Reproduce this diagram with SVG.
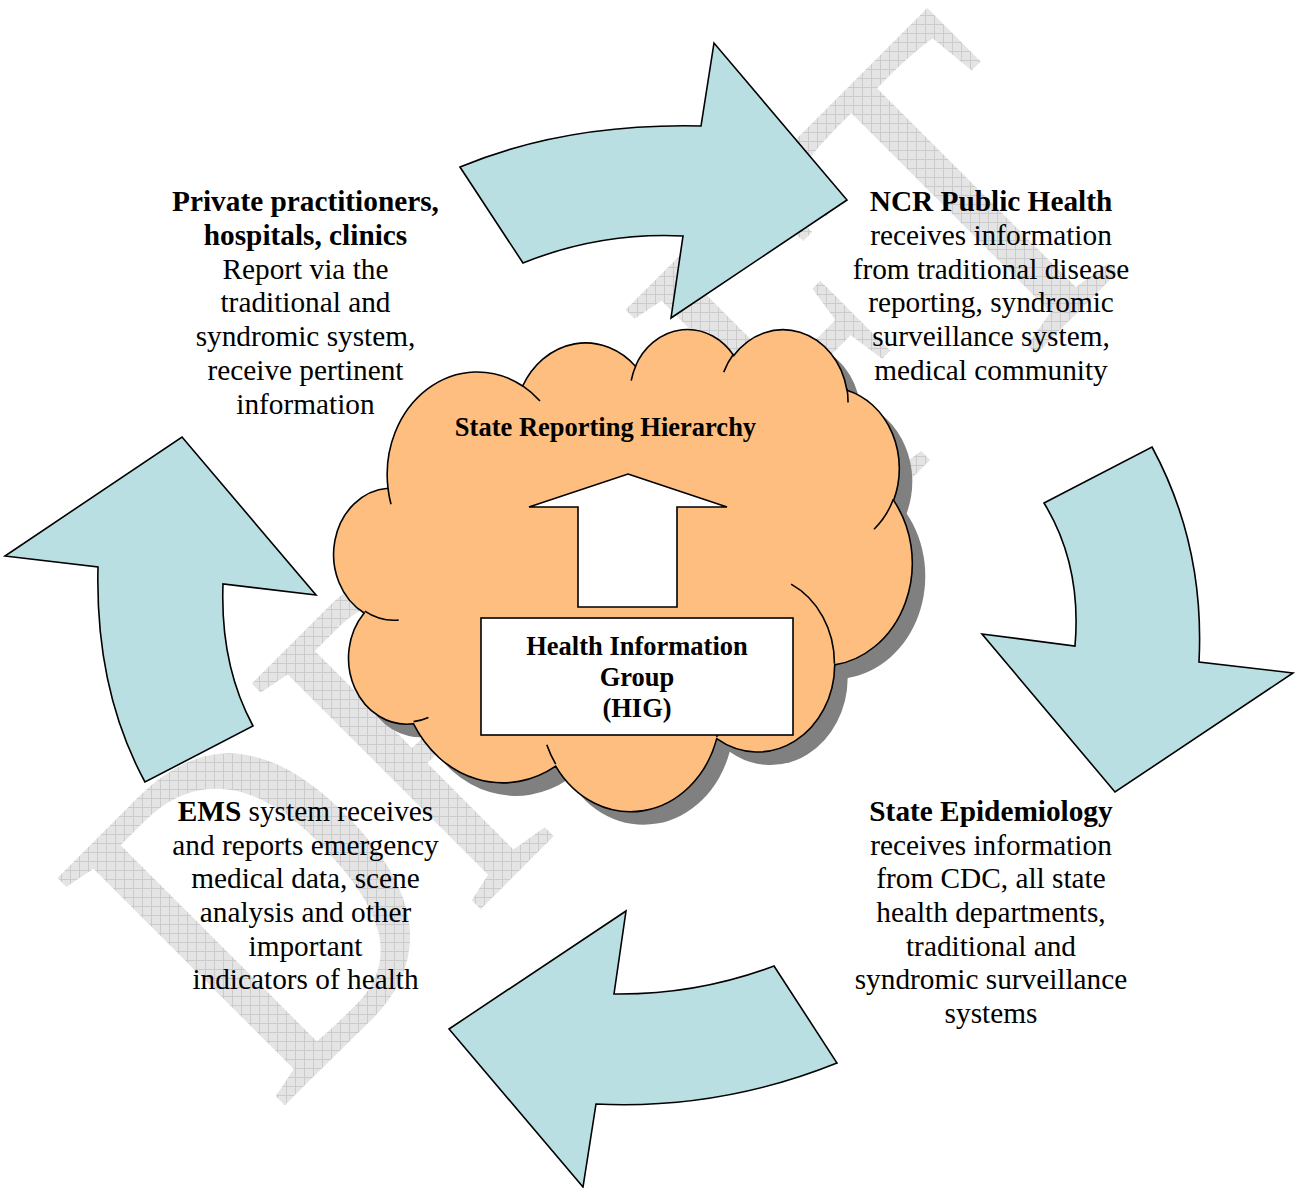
<svg xmlns="http://www.w3.org/2000/svg" width="1296" height="1188" viewBox="0 0 1296 1188">
  <defs>
    <!-- light grid fill used for the DRAFT watermark; patternTransform undoes the text transform so the grid stays axis-aligned -->
    <pattern id="grid" width="9" height="9" patternUnits="userSpaceOnUse" patternTransform="scale(1.2903,1) rotate(45)">
      <rect width="9" height="9" fill="#e4e4e4"/>
      <path d="M0 0.5H9M0.5 0V9" stroke="#cbcbcb" stroke-width="1"/>
    </pattern>
    <style>
      .arrow { fill: #b9dfe3; stroke: #000; stroke-width: 1.6; stroke-linejoin: miter; }
      .cloud { fill: #fdbe7f; stroke: #000; stroke-width: 1.6; }
      .cloud-line { fill: none; stroke: #000; stroke-width: 1.6; }
      .shadow { fill: #808080; stroke: none; }
      .box { fill: #fff; stroke: #000; stroke-width: 1.6; }
      .lbl { font-family: "Liberation Serif", "Times New Roman", serif; font-size: 29.3px; fill: #000; text-anchor: middle; }
      .inner { font-family: "Liberation Serif", "Times New Roman", serif; font-size: 26.5px; font-weight: bold; fill: #000; text-anchor: middle; }
      .b { font-weight: bold; }
    </style>
  </defs>

  <rect width="1296" height="1188" fill="#fff"/>

  <!-- watermark -->
  <g id="watermark">
    <text transform="translate(277,1113) rotate(-45) scale(0.775,1)" font-family="Liberation Serif, Times New Roman, serif" font-size="491" fill="url(#grid)">DRAFT</text>
  </g>

  <!-- cycle arrows -->
  <g id="connectors">
    <path id="arrow-top" class="arrow" d="M460,167 Q566,123 701,126 L714,43 L847,200 L671,318 L683,236 Q600,232 523,263 Z"/>
    <path id="arrow-right" class="arrow" d="M1044,503 L1152,447 Q1205,545 1199,662 L1293,673 L1115,792 L982,634 L1075,646 Q1082,565 1044,503 Z"/>
    <path id="arrow-bottom" class="arrow" d="M774,966 L837,1063 Q720,1110 596,1104 L583,1187 L449,1029 L626,911 L614,994 Q697,995 774,966 Z"/>
    <path id="arrow-left" class="arrow" d="M145,782 Q95,690 98,567 L5,556 L182,437 L316,595 L223,584 Q220,665 253,726 Z"/>
  </g>

  <!-- central cloud: State Reporting Hierarchy -->
  <g id="node-hierarchy">
    <path class="shadow" transform="translate(13,13)" d="M388.0,488.3 A90.04,102.54 0 0 1 522.7,386.0 A71.11,81.08 0 0 1 635.4,366.2 A58.2,66.33 0 0 1 733.8,355.6 A64.76,73.58 0 0 1 846.9,390.2 A71.11,81.15 0 0 1 893.6,500.4 A90.33,102.87 0 0 1 834.7,664.9 A77.13,87.78 0 0 1 716.7,738.7 A90.03,102.82 0 0 1 555.7,766.1 A102.93,117.63 0 0 1 413.4,723.7 A58.13,66.03 0 0 1 364.2,613.0 A57.93,66.33 0 0 1 388.0,488.3 Z"/>
    <path class="cloud" d="M388.0,488.3 A90.04,102.54 0 0 1 522.7,386.0 A71.11,81.08 0 0 1 635.4,366.2 A58.2,66.33 0 0 1 733.8,355.6 A64.76,73.58 0 0 1 846.9,390.2 A71.11,81.15 0 0 1 893.6,500.4 A90.33,102.87 0 0 1 834.7,664.9 A77.13,87.78 0 0 1 716.7,738.7 A90.03,102.82 0 0 1 555.7,766.1 A102.93,117.63 0 0 1 413.4,723.7 A58.13,66.03 0 0 1 364.2,613.0 A57.93,66.33 0 0 1 388.0,488.3 Z"/>
    <path class="cloud-line" d="M398.6,620.1 A57.93,66.33 0 0 1 364.8,611.2 M428.4,717.4 A58.13,66.03 0 0 1 413.6,721.6 M555.7,764.1 A90.03,102.82 0 0 1 546.8,744.7 M720.4,715.7 A90.03,102.82 0 0 1 716.8,737.0 M791.1,584.1 A77.13,87.78 0 0 1 834.4,663.7 M893.3,499.3 A71.11,81.15 0 0 1 874.0,529.2 M847.0,388.5 A64.76,73.58 0 0 1 848.0,402.6 M723.7,372.1 A64.76,73.58 0 0 1 733.6,354.1 M631.2,380.7 A58.2,66.33 0 0 1 636.0,365.2 M522.7,385.9 A90.04,102.54 0 0 1 540.0,401.0 M391.0,504.2 A90.04,102.54 0 0 1 388.0,488.3"/>
    <text class="inner" x="605.5" y="436">State Reporting Hierarchy</text>
    <polygon class="box" points="628,474 727,507 677,507 677,607 578,607 578,507 529,507"/>
  </g>

  <g id="node-hig">
    <rect class="box" x="481" y="618" width="312" height="117"/>
    <text class="inner" x="637" y="655">Health Information</text>
    <text class="inner" x="637" y="686">Group</text>
    <text class="inner" x="637" y="717">(HIG)</text>
  </g>

  <g id="node-private">
    <text class="lbl b" x="305.5" y="211">Private practitioners,</text>
    <text class="lbl b" x="305.5" y="245">hospitals, clinics</text>
    <text class="lbl" x="305.5" y="279">Report via the</text>
    <text class="lbl" x="305.5" y="312">traditional and</text>
    <text class="lbl" x="305.5" y="346">syndromic system,</text>
    <text class="lbl" x="305.5" y="380">receive pertinent</text>
    <text class="lbl" x="305.5" y="414">information</text>
  </g>

  <g id="node-ncr">
    <text class="lbl b" x="991" y="211">NCR Public Health</text>
    <text class="lbl" x="991" y="245">receives information</text>
    <text class="lbl" x="991" y="279">from traditional disease</text>
    <text class="lbl" x="991" y="312">reporting, syndromic</text>
    <text class="lbl" x="991" y="346">surveillance system,</text>
    <text class="lbl" x="991" y="380">medical community</text>
  </g>

  <g id="node-state">
    <text class="lbl b" x="991" y="821">State Epidemiology</text>
    <text class="lbl" x="991" y="855">receives information</text>
    <text class="lbl" x="991" y="888">from CDC, all state</text>
    <text class="lbl" x="991" y="922">health departments,</text>
    <text class="lbl" x="991" y="956">traditional and</text>
    <text class="lbl" x="991" y="989">syndromic surveillance</text>
    <text class="lbl" x="991" y="1023">systems</text>
  </g>

  <g id="node-ems">
    <text class="lbl" x="305.5" y="821"><tspan class="b">EMS</tspan> system receives</text>
    <text class="lbl" x="305.5" y="855">and reports emergency</text>
    <text class="lbl" x="305.5" y="888">medical data, scene</text>
    <text class="lbl" x="305.5" y="922">analysis and other</text>
    <text class="lbl" x="305.5" y="956">important</text>
    <text class="lbl" x="305.5" y="989">indicators of health</text>
  </g>
</svg>
